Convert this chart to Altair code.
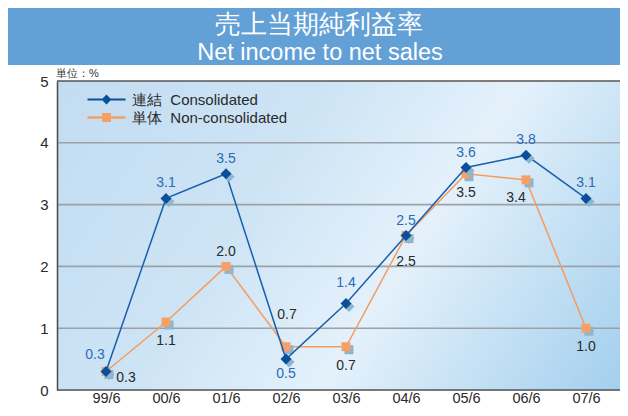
import altair as alt
import pandas as pd

# ---------------- data ----------------
periods = ["99/6", "00/6", "01/6", "02/6", "03/6", "04/6", "05/6", "06/6", "07/6"]
consolidated = [0.3, 3.1, 3.5, 0.5, 1.4, 2.5, 3.6, 3.8, 3.1]
non_consolidated = [0.3, 1.1, 2.0, 0.7, 0.7, 2.5, 3.5, 3.4, 1.0]
series_names = ["連結\u00a0\u00a0Consolidated", "単体\u00a0\u00a0Non-consolidated"]
series_keys = ["cons", "non"]
y_ticks = [0, 1, 2, 3, 4, 5]
grid_values = [1, 2, 3, 4]
border_values = [0, 5]
title_jp = "売上当期純利益率"
title_en = "Net income to net sales"
unit_label = "単位：%"

# ---------------- styles ----------------
W, H = 563, 309
PAD_L, PAD_T, PAD_B = 49, 73, 18
BLUE_LINE = "#1a5fab"
BLUE_MARK = "#0a4e9c"
BLUE_TEXT = "#2a6cb5"
ORANGE_LINE = "#f59b5e"
ORANGE_MARK = "#f7a066"
SHADOW = "#8db5cc"
DARK_TEXT = "#2a2a2a"
BANNER = "#62a0d6"
FONT = "Liberation Sans"

df = pd.DataFrame({
    "period": periods * 2,
    "key": [series_keys[0]] * len(periods) + [series_keys[1]] * len(periods),
    "series": [series_names[0]] * len(periods) + [series_names[1]] * len(periods),
    "value": consolidated + non_consolidated,
})

x_enc = alt.X(
    "period:N", sort=periods,
    scale=alt.Scale(type="point", domain=periods, range=[49, 529], padding=0),
    axis=alt.Axis(title=None, domain=False, ticks=False, tickSize=0, grid=False,
                  labelPadding=1, labelFontSize=14.5, labelColor=DARK_TEXT,
                  labelAngle=0, labelFont=FONT),
)
y_scale = alt.Scale(domain=[0, 5], nice=False, zero=True)
y_enc = alt.Y(
    "value:Q", scale=y_scale,
    axis=alt.Axis(title=None, values=y_ticks, grid=False, ticks=False, tickSize=0,
                  labelPadding=9, labelFontSize=15, labelColor=DARK_TEXT, labelFont=FONT,
                  domainColor="#4a4a4a", domainWidth=1.5, zindex=1, format="d"),
)

one = pd.DataFrame({"k": [0]})

# plot background gradient
bg = alt.Chart(one).mark_rect(
    color=alt.Gradient(
        gradient="linear", x1=0, y1=0, x2=1.22, y2=0.44,
        stops=[
            alt.GradientStop(color="#c3dcf1", offset=0),
            alt.GradientStop(color="#cde4f5", offset=0.35),
            alt.GradientStop(color="#e4f1fb", offset=0.6),
            alt.GradientStop(color="#c9e3f5", offset=0.76),
            alt.GradientStop(color="#a1ceed", offset=1),
        ],
    )
).encode(x=alt.value(0), x2=alt.value("width"), y=alt.value(0), y2=alt.value("height"))

grid = alt.Chart(pd.DataFrame({"value": grid_values})).mark_rule(
    color="#9aa2a8", strokeWidth=1.6
).encode(y=alt.Y("value:Q", scale=y_scale))

border = alt.Chart(pd.DataFrame({"value": border_values})).mark_rule(
    color="#555555", strokeWidth=1.5
).encode(y=alt.Y("value:Q", scale=y_scale))

base = alt.Chart(df)
cons = base.transform_filter(alt.datum.key == "cons")
non = base.transform_filter(alt.datum.key == "non")

non_line = non.mark_line(color=ORANGE_LINE, strokeWidth=1.5).encode(x=x_enc, y=y_enc)
non_shadow = non.mark_square(color=SHADOW, size=81, opacity=1, xOffset=3, yOffset=3).encode(x=x_enc, y=y_enc)
non_pts = non.mark_square(color=ORANGE_MARK, size=81, opacity=1).encode(x=x_enc, y=y_enc)

cons_line = cons.mark_line(color=BLUE_LINE, strokeWidth=1.5).encode(x=x_enc, y=y_enc)
cons_shadow = cons.mark_point(shape="diamond", filled=True, color=SHADOW, size=121, opacity=1,
                              xOffset=3, yOffset=3).encode(x=x_enc, y=y_enc)
cons_pts = cons.mark_point(shape="diamond", filled=True, color=BLUE_MARK, size=121, opacity=1).encode(x=x_enc, y=y_enc)


def labels(src, cats, color, dx, dy):
    return src.transform_filter(
        alt.FieldOneOfPredicate(field="period", oneOf=cats)
    ).mark_text(color=color, fontSize=14, font=FONT, dx=dx, dy=dy, baseline="middle").encode(
        x=x_enc, y=y_enc, text=alt.Text("value:Q", format=".1f")
    )


cons_labels = [
    labels(cons, ["99/6"], BLUE_TEXT, -11, -16),
    labels(cons, ["02/6"], BLUE_TEXT, 0, 15),
    labels(cons, ["03/6"], BLUE_TEXT, 0, -20),
    labels(cons, ["00/6", "01/6", "04/6", "05/6", "06/6", "07/6"], BLUE_TEXT, 0, -15),
]
non_labels = [
    labels(non, ["99/6"], DARK_TEXT, 20, 7),
    labels(non, ["01/6"], DARK_TEXT, 0, -14),
    labels(non, ["02/6"], DARK_TEXT, 1, -32),
    labels(non, ["04/6"], DARK_TEXT, 0, 26),
    labels(non, ["06/6"], DARK_TEXT, -10, 18),
    labels(non, ["00/6", "03/6", "05/6", "07/6"], DARK_TEXT, 0, 19),
]

leg_diamond = "M-3.8,-0.18H3.8V0.18H-3.8Z M0,-1L1,0L0,1L-1,0Z"
leg_square = "M-3.8,-0.25H3.8V0.25H-3.8Z M-0.9,-0.9H0.9V0.9H-0.9Z"
leg_cfg = dict(title=None, orient="none", legendX=42, legendY=11, symbolSize=100,
               labelOffset=18, rowPadding=2, padding=0, labelFontSize=15,
               labelFont=FONT, labelColor=DARK_TEXT, symbolStrokeWidth=0,
               symbolOpacity=1, labelLimit=400)
legend_layer = base.transform_filter("false").mark_point(filled=True, opacity=1).encode(
    x=x_enc, y=y_enc,
    color=alt.Color("series:N", scale=alt.Scale(domain=series_names, range=[BLUE_MARK, ORANGE_MARK]),
                    legend=alt.Legend(**leg_cfg)),
    shape=alt.Shape("series:N", scale=alt.Scale(domain=series_names, range=[leg_diamond, leg_square]),
                    legend=alt.Legend(**leg_cfg)),
)

banner = alt.Chart(one).mark_rect(color=BANNER).encode(
    x=alt.value(-PAD_L), x2=alt.value(W), y=alt.value(-PAD_T), y2=alt.value(-16)
)
t_jp = alt.Chart(pd.DataFrame({"t": [title_jp]})).mark_text(
    color="white", fontSize=25.5, font=FONT, baseline="middle", align="center"
).encode(text="t:N", x=alt.value(262), y=alt.value(17 - PAD_T))
t_en = alt.Chart(pd.DataFrame({"t": [title_en]})).mark_text(
    color="white", fontSize=23.5, font=FONT, baseline="alphabetic", align="center"
).encode(text="t:N", x=alt.value(263), y=alt.value(52 - PAD_T))
t_unit = alt.Chart(pd.DataFrame({"t": [unit_label]})).mark_text(
    color="#333333", fontSize=11, font=FONT, baseline="middle", align="left"
).encode(text="t:N", x=alt.value(-1), y=alt.value(-7))

chart = alt.layer(
    bg, grid, border,
    non_line, non_shadow, non_pts,
    cons_line, cons_shadow, cons_pts,
    *cons_labels, *non_labels,
    legend_layer,
    banner, t_jp, t_en, t_unit,
).properties(
    width=W, height=H,
    autosize=alt.AutoSizeParams(type="none"),
    padding={"left": PAD_L, "top": PAD_T, "right": 0, "bottom": PAD_B},
).configure_view(stroke=None).configure(background="white")

chart.save("out.html", embed_options={"renderer": "svg", "actions": False})
